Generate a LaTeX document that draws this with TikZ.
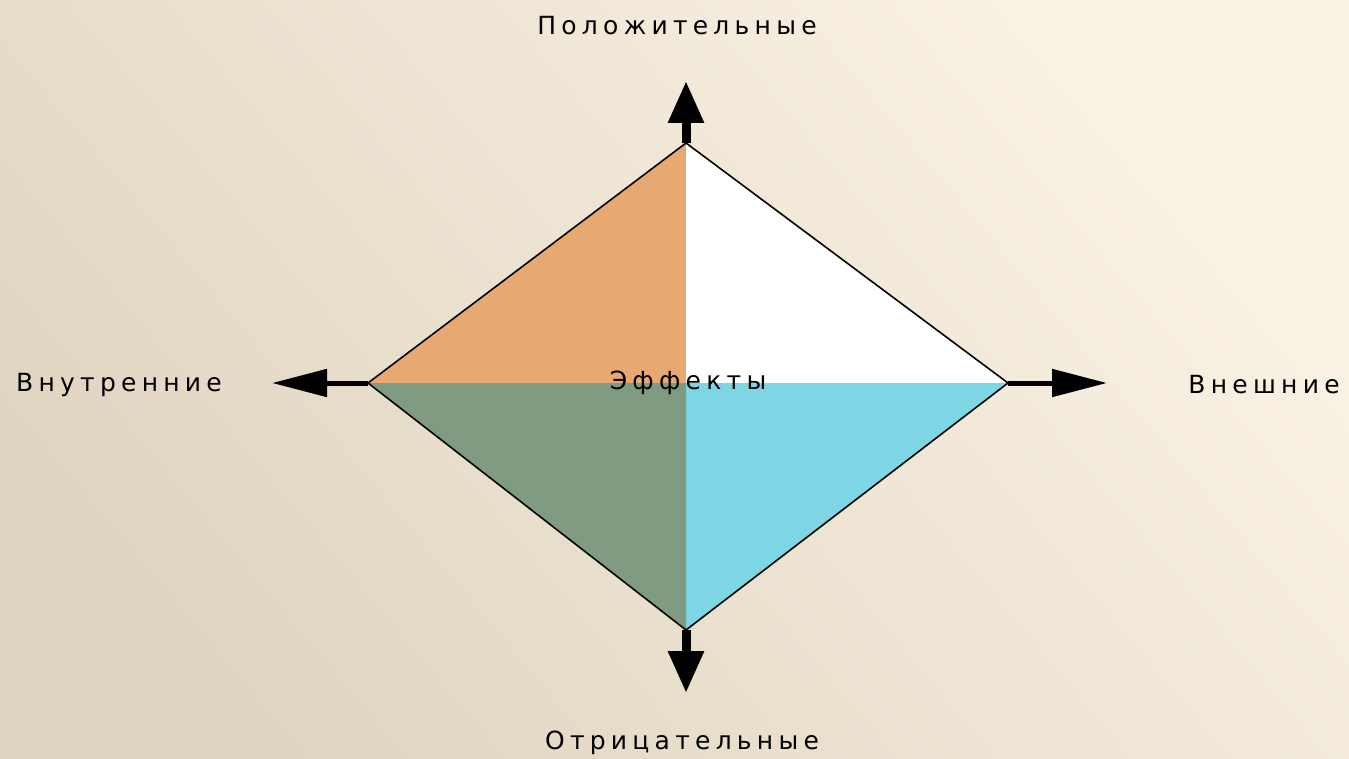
\documentclass[tikz,border=0pt]{standalone}
\usepackage{fontspec}
\usepackage{tikz}
\usetikzlibrary{arrows.meta, positioning}
\newfontfamily\pixfont[LetterSpace=21]{DejaVu Sans}
\definecolor{bgdark}{HTML}{E0D5C1}
\definecolor{bglight}{HTML}{FAF2E4}
\definecolor{qorange}{HTML}{E8A871}
\definecolor{qgreen}{HTML}{7F9B81}
\definecolor{qcyan}{HTML}{7ED6E4}

\begin{document}
\begin{tikzpicture}[x=1pt, y=-1pt,
  vaxis/.style={line width=9pt, -{Triangle[length=42pt, width=34pt]}},
  haxis/.style={line width=5pt, -{Triangle[length=55pt, width=27pt]}},
  lbl/.style={font=\pixfont\fontsize{25}{28}\selectfont, text=black, inner sep=0pt}]
\shade[top color=bglight, bottom color=bgdark, shading angle=-50] (0,0) rectangle (1349,759);
\coordinate (top) at (686,143);
\coordinate (left) at (368,383);
\coordinate (right) at (1008,383);
\coordinate (bottom) at (686,630);
\coordinate (ctr) at (686,383);
% quadrants
\fill[qorange] (ctr) -- (left) -- (top) -- cycle;
\fill[white] (ctr) -- (top) -- (right) -- cycle;
\fill[qcyan] (ctr) -- (right) -- (bottom) -- cycle;
\fill[qgreen] (ctr) -- (bottom) -- (left) -- cycle;
\draw[line width=1.6pt, line join=miter] (top) -- (right) -- (bottom) -- (left) -- cycle;
% axes
\coordinate (upEnd) at (686,81);
\coordinate (downEnd) at (686,693);
\coordinate (leftEnd) at (272,383);
\coordinate (rightEnd) at (1107,383);
\draw[vaxis] (top) -- (upEnd);
\draw[vaxis] (bottom) -- (downEnd);
\draw[haxis] (left) -- (leftEnd);
\draw[haxis] (right) -- (rightEnd);
% labels
\node[lbl] (pos) at (677,26) {Положительные};
\node[lbl] (neg) at (682,743) {Отрицательные};
\node[lbl] (inner) at (119,385) {Внутренние};
\node[lbl] (outer) at (1264,385) {Внешние};
\node[lbl] (effects) at (688,383) {Эффекты};
\end{tikzpicture}
\end{document}
